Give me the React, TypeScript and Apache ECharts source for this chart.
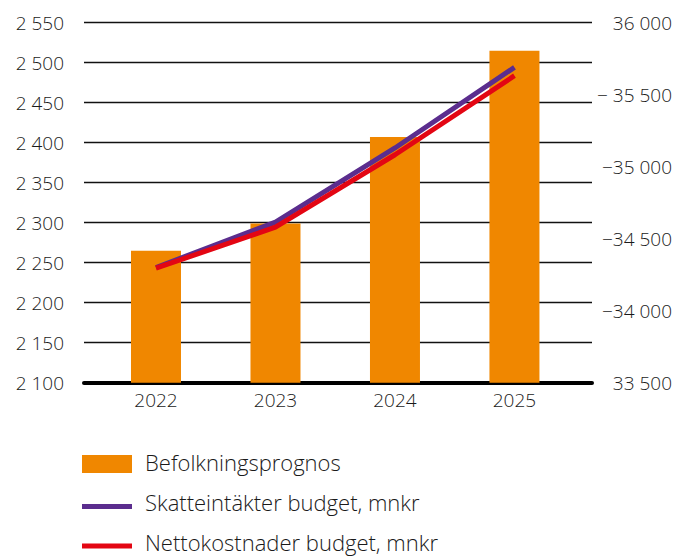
import React, { useEffect, useRef } from "react";
import * as echarts from "echarts";

const years = ["2022", "2023", "2024", "2025"];
const befolkning = [2265, 2299, 2407, 2515];
const skatteintakter = [34300, 34615, 35130, 35690];
const nettokostnader = [34295, 34580, 35083, 35632];
const rightTickLabels: Record<number, string> = {
  36000: "36 000",
  35500: "− 35 500",
  35000: "−35 000",
  34500: "−34 500",
  34000: "−34 000",
  33500: "33 500",
};
const legendNames = ["Befolkningsprognos", "Skatteintäkter budget, mnkr", "Nettokostnader budget, mnkr"];

const ORANGE = "#f08700";
const PURPLE = "#5b2d8e";
const RED = "#e30613";
const FONT = "'Open Sans', Lato, sans-serif";

export default function App() {
  const ref = useRef<HTMLDivElement>(null);
  useEffect(() => {
    if (!ref.current) return;
    const chart = echarts.init(ref.current, undefined, { renderer: "svg" });
    const textStyle = { fontFamily: FONT, fontSize: 19, color: "#1a1a1a", fontWeight: 300 as any };
    chart.setOption({
      animation: false,
      grid: { left: 84, right: 85, top: 22.7, bottom: 175.3, containLabel: false },
      xAxis: {
        type: "value",
        min: -0.6025,
        max: 3.649,
        axisLine: { show: true, onZero: false, lineStyle: { color: "#000", width: 4 } },
        axisTick: { show: false },
        splitLine: { show: false },
        axisLabel: {
          ...textStyle,
          margin: 8,
          customValues: [0, 1, 2, 3],
          formatter: (v: number) => years[Math.round(v)] ?? "",
        },
      },
      yAxis: [
        {
          type: "value",
          min: 2100,
          max: 2550,
          interval: 50,
          axisLine: { show: false },
          axisTick: { show: false },
          splitLine: { show: true, lineStyle: { color: "#111", width: 1.3 } },
          axisLabel: {
            ...textStyle,
            margin: 20,
            formatter: (v: number) => {
              const s = String(v);
              return s.slice(0, 1) + " " + s.slice(1);
            },
          },
        },
        {
          type: "value",
          min: 33500,
          max: 36000,
          interval: 500,
          position: "right",
          axisLine: { show: false },
          axisTick: { show: false },
          splitLine: { show: false },
          axisLabel: {
            ...textStyle,
            align: "right",
            margin: 80,
            formatter: (v: number) => rightTickLabels[v] ?? "",
          },
        },
      ],
      series: [
        {
          name: legendNames[0],
          type: "bar",
          yAxisIndex: 0,
          barWidth: 50,
          itemStyle: { color: ORANGE },
          data: befolkning.map((v, i) => [i, v]),
        },
        {
          name: legendNames[1],
          type: "line",
          yAxisIndex: 1,
          showSymbol: false,
          symbol: "none",
          lineStyle: { color: PURPLE, width: 5 },
          itemStyle: { color: PURPLE },
          data: skatteintakter.map((v, i) => [i, v]),
        },
        {
          name: legendNames[2],
          type: "line",
          yAxisIndex: 1,
          showSymbol: false,
          symbol: "none",
          lineStyle: { color: RED, width: 5 },
          itemStyle: { color: RED },
          data: nettokostnader.map((v, i) => [i, v]),
        },
      ],
      graphic: [
        { type: "rect", left: 82, top: 455, shape: { width: 50, height: 18 }, style: { fill: ORANGE } },
        { type: "rect", left: 82, top: 504, shape: { width: 50, height: 5 }, style: { fill: PURPLE } },
        { type: "rect", left: 82, top: 543.5, shape: { width: 50, height: 5 }, style: { fill: RED } },
        {
          type: "text",
          left: 145,
          top: 451,
          style: { text: legendNames[0], fontFamily: FONT, fontSize: 22, fontWeight: 300, fill: "#1a1a1a" },
        },
        {
          type: "text",
          left: 145,
          top: 491,
          style: { text: legendNames[1], fontFamily: FONT, fontSize: 22, fontWeight: 300, fill: "#1a1a1a" },
        },
        {
          type: "text",
          left: 145,
          top: 531,
          style: { text: legendNames[2], fontFamily: FONT, fontSize: 22, fontWeight: 300, fill: "#1a1a1a" },
        },
      ],
    });
    return () => chart.dispose();
  }, []);
  return <div ref={ref} style={{ width: 677, height: 558, position: "absolute", left: 0, top: 0 }} />;
}
